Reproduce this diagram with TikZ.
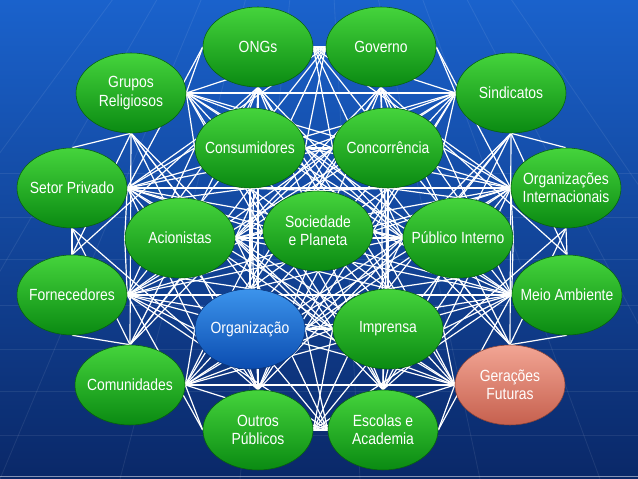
\documentclass[tikz,border=0pt]{standalone}
\usepackage{fontspec}
\setmainfont{Liberation Sans}[FakeStretch=0.86]
\usetikzlibrary{shapes.geometric}
\pgfdeclarelayer{bg}
\pgfdeclarelayer{web}
\pgfsetlayers{bg,web,main}

\begin{document}
\begin{tikzpicture}[
  stake/.style={ellipse, minimum width=2.75cm, minimum height=2cm, inner ysep=0pt,
    inner xsep=-9pt, align=center, text=white, font=\fontsize{11.5}{13}\selectfont,
    top color=greenlt, bottom color=greendk, draw=greendk!70!black, line width=.4pt},
  core/.style={stake, top color=bluelt, bottom color=bluedk, draw=bluedk!70!black},
  future/.style={stake, top color=salmonlt, bottom color=salmondk, draw=salmondk!70!black},
  web/.style={white, line width=.85pt}
]
  % Colours: slide background, stakeholder ellipses.
  \definecolor{bgtop}{HTML}{1A62CC}
  \definecolor{bgbot}{HTML}{0A2868}
  \definecolor{greenlt}{HTML}{45D43C}
  \definecolor{greendk}{HTML}{0A8A12}
  \definecolor{bluelt}{HTML}{3C94EC}
  \definecolor{bluedk}{HTML}{0B4CB0}
  \definecolor{salmonlt}{HTML}{F2A594}
  \definecolor{salmondk}{HTML}{C6604E}

  \useasboundingbox (0,0) rectangle (15.95,11.975);
  \begin{pgfonlayer}{bg}
    \fill[top color=bgtop, bottom color=bgbot] (0,0) rectangle (15.95,11.975);
    \foreach \y in {7.65,6.55,5.5,4.35,3.25,2.2,1.1}
      \draw[white, opacity=.08, line width=.6pt] (0,\y) -- (15.95,\y);
    \foreach \x in {-6,-3,0,3,6,9,12,15,18,21}
      \draw[white, opacity=.08, line width=.6pt] (7.975,19) -- (\x,0);
    \draw[white, opacity=.5, line width=.8pt] (0,.06) -- (15.95,.06);
  \end{pgfonlayer}

  % Outer ring
  \node[stake] (ongs) at (6.45,10.8) {ONGs};
  \node[stake] (governo) at (9.525,10.8) {Governo};
  \node[stake] (sindicatos) at (12.775,9.65) {Sindicatos};
  \node[stake] (orgint) at (14.15,7.275) {Organizações\\Internacionais};
  \node[stake] (meio) at (14.175,4.6) {Meio Ambiente};
  \node[future] (geracoes) at (12.75,2.35) {Gerações\\Futuras};
  \node[stake] (escolas) at (9.575,1.225) {Escolas e\\Academia};
  \node[stake] (outros) at (6.45,1.225) {Outros\\Públicos};
  \node[stake] (comunidades) at (3.25,2.35) {Comunidades};
  \node[stake] (fornecedores) at (1.8,4.6) {Fornecedores};
  \node[stake] (setor) at (1.8,7.275) {Setor Privado};
  \node[stake] (grupos) at (3.275,9.65) {Grupos\\Religiosos};
  % Inner nodes
  \node[stake] (consumidores) at (6.25,8.275) {Consumidores};
  \node[stake] (concorrencia) at (9.7,8.275) {Concorrência};
  \node[stake] (acionistas) at (4.5,6.025) {Acionistas};
  \node[stake] (sociedade) at (7.95,6.2) {Sociedade\\e Planeta};
  \node[stake] (publico) at (11.45,6.025) {Público Interno};
  \node[core] (organizacao) at (6.25,3.75) {Organização};
  \node[stake] (imprensa) at (9.7,3.75) {Imprensa};

  % Every stakeholder linked to every other, compass anchor facing the partner.
  \def\stakes{ongs/6.45/10.8, governo/9.525/10.8, sindicatos/12.775/9.65,
    orgint/14.15/7.275, meio/14.175/4.6, geracoes/12.75/2.35, escolas/9.575/1.225,
    outros/6.45/1.225, comunidades/3.25/2.35, fornecedores/1.8/4.6, setor/1.8/7.275,
    grupos/3.275/9.65, consumidores/6.25/8.275, concorrencia/9.7/8.275,
    acionistas/4.5/6.025, sociedade/7.95/6.2, publico/11.45/6.025,
    organizacao/6.25/3.75, imprensa/9.7/3.75}
  \begin{pgfonlayer}{web}
    \foreach \a/\ax/\ay [count=\i] in \stakes {
      \foreach \b/\bx/\by [count=\j] in \stakes {
        \ifnum\j>\i
          \pgfmathtruncatemacro\k{abs(\bx-\ax)>abs(\by-\ay) ? (\bx>\ax ? 0 : 1) : (\by>\ay ? 2 : 3)}
          \ifcase\k
            \draw[web] (\a.east) -- (\b.west);
          \or
            \draw[web] (\a.west) -- (\b.east);
          \or
            \draw[web] (\a.north) -- (\b.south);
          \or
            \draw[web] (\a.south) -- (\b.north);
          \fi
        \fi
      }
    }
  \end{pgfonlayer}
\end{tikzpicture}
\end{document}
